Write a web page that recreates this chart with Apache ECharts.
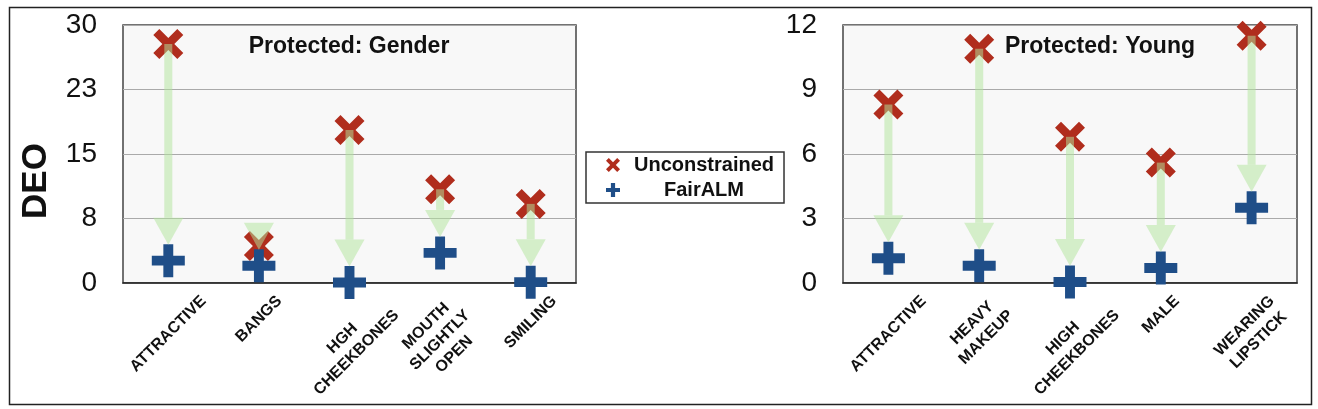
<!DOCTYPE html>
<html>
<head>
<meta charset="utf-8">
<script src="https://cdn.jsdelivr.net/npm/echarts@6/dist/echarts.min.js"></script>
<style>
html,body{margin:0;padding:0;background:#fff;}
#chart{width:1318px;height:409px;}
</style>
</head>
<body>
<div id="chart"></div>
<script>
// ---------- data ----------
const genderCategories = ['ATTRACTIVE', 'BANGS', 'HGH\nCHEEKBONES', 'MOUTH\nSLIGHTLY\nOPEN', 'SMILING'];
const genderUnconstrained = [27.8, 4.3, 17.8, 10.9, 9.2];
const genderFairALM = [2.6, 2.0, 0.05, 3.5, 0.1];
const genderTickLabels = ['0', '8', '15', '23', '30'];

const youngCategories = ['ATTRACTIVE', 'HEAVY\nMAKEUP', 'HIGH\nCHEEKBONES', 'MALE', 'WEARING\nLIPSTICK'];
const youngUnconstrained = [8.3, 10.9, 6.8, 5.6, 11.5];
const youngFairALM = [1.15, 0.8, 0.05, 0.7, 3.5];
const youngTickLabels = ['0', '3', '6', '9', '12'];

const titles = ['Protected: Gender', 'Protected: Young'];
const seriesNames = ['Unconstrained', 'FairALM'];
const yAxisName = 'DEO';

// ---------- styles ----------
const FONT = '"Liberation Sans", Arial, Helvetica, sans-serif';
const RED = '#b02d1d';
const BLUE = '#1f4e88';
const ARROW = 'rgba(178,228,158,0.52)';
const X_PATH = 'path://M2,0 L5,3 L8,0 L10,2 L7,5 L10,8 L8,10 L5,7 L2,10 L0,8 L3,5 L0,2 Z';
const PLUS_PATH = 'path://M3.5,0 H6.5 V3.5 H10 V6.5 H6.5 V10 H3.5 V6.5 H0 V3.5 H3.5 Z';

const LABEL_SIZE = 16, LABEL_LH = 20, LABEL_GAP = 10;
const measureCtx = document.createElement('canvas').getContext('2d');
measureCtx.font = 'bold ' + LABEL_SIZE + 'px ' + FONT;

function pairs(vals) { return vals.map((v, i) => [i, v]); }

function arrowSeries(g, unc, fair) {
  return {
    type: 'custom', xAxisIndex: g, yAxisIndex: g, clip: false, silent: true, z: 5,
    data: unc.map((u, i) => [i, u, fair[i]]),
    renderItem: function (params, api) {
      const i = api.value(0);
      const p1 = api.coord([i, api.value(1)]);
      const p2 = api.coord([i, api.value(2)]);
      const x = p1[0];
      const tipY = p2[1] - 16;
      const baseY = tipY - 27;
      const children = [];
      if (baseY > p1[1]) {
        children.push({ type: 'rect', shape: { x: x - 4, y: p1[1], width: 8, height: baseY - p1[1] }, style: { fill: ARROW } });
      }
      children.push({ type: 'polygon', shape: { points: [[x - 15, baseY], [x + 15, baseY], [x, tipY]] }, style: { fill: ARROW } });
      return { type: 'group', children: children };
    }
  };
}

function labelSeries(g, cats) {
  return {
    type: 'custom', xAxisIndex: g, yAxisIndex: g, clip: false, silent: true, z: 3,
    data: cats.map((c, i) => [i, 0]),
    renderItem: function (params, api) {
      const i = api.value(0);
      const p = api.coord([i, 0]);
      const lines = cats[i].split('\n');
      const w = Math.max.apply(null, lines.map(l => measureCtx.measureText(l).width));
      const h = (lines.length - 1) * LABEL_LH + LABEL_SIZE;
      const half = (w + h) / (2 * Math.SQRT2);
      return {
        type: 'text', x: p[0], y: p[1] + LABEL_GAP + half, rotation: Math.PI / 4,
        style: {
          text: cats[i], fontSize: LABEL_SIZE, fontWeight: 'bold', fontFamily: FONT,
          fill: '#111', align: 'center', verticalAlign: 'middle', lineHeight: LABEL_LH
        }
      };
    }
  };
}

function scatter(g, name, vals, sym, color, size) {
  return {
    type: 'scatter', name: name, xAxisIndex: g, yAxisIndex: g, clip: false, z: 4,
    symbol: sym, symbolSize: size, itemStyle: { color: color, opacity: 1 },
    data: pairs(vals)
  };
}

const gridCommon = { top: 25, height: 258, show: true, backgroundColor: '#f8f8f8', borderColor: '#444', borderWidth: 1.5 };

function xAxis(g, cats) {
  return {
    type: 'category', gridIndex: g, data: cats, boundaryGap: true,
    axisLine: { show: true, lineStyle: { color: '#222', width: 1.5 } },
    axisTick: { show: false }, axisLabel: { show: false }, splitLine: { show: false }
  };
}

function yAxis(g, max, interval, ticks, withName) {
  const ax = {
    type: 'value', gridIndex: g, min: 0, max: max, interval: interval,
    axisLine: { show: false }, axisTick: { show: false },
    splitLine: { show: true, lineStyle: { color: '#aaa', width: 1 } },
    axisLabel: {
      margin: 26, fontSize: 28, color: '#111', fontFamily: FONT,
      formatter: function (v) { return ticks[Math.round(v / interval)]; }
    }
  };
  if (withName) {
    Object.assign(ax, {
      name: yAxisName, nameLocation: 'middle', nameRotate: 90, nameGap: 69,
      nameTextStyle: { fontSize: 35, fontWeight: 'bold', color: '#111', fontFamily: FONT, padding: [0, 54, 0, 0] }
    });
  }
  return ax;
}

const chart = echarts.init(document.getElementById('chart'), null, { renderer: 'canvas' });
chart.setOption({
  animation: false,
  backgroundColor: '#fff',
  title: [
    { text: titles[0], left: 349, top: 35, textAlign: 'center', padding: 0,
      textStyle: { fontSize: 23, fontWeight: 'bold', color: '#111', fontFamily: FONT } },
    { text: titles[1], left: 1100, top: 35, textAlign: 'center', padding: 0,
      textStyle: { fontSize: 23, fontWeight: 'bold', color: '#111', fontFamily: FONT } }
  ],
  legend: {
    left: 586, top: 152, orient: 'vertical', itemGap: 5,
    padding: [3, 10, 3, 20], backgroundColor: '#fff', borderColor: '#333', borderWidth: 1.5, borderRadius: 0,
    itemWidth: 14, itemHeight: 14, itemStyle: { borderWidth: 0 },
    data: [{ name: seriesNames[0], icon: X_PATH }, { name: seriesNames[1], icon: PLUS_PATH }],
    formatter: function (n) { return '{a|' + n + '}'; },
    textStyle: {
      color: '#111', fontSize: 20, fontWeight: 'bold', fontFamily: FONT,
      rich: { a: { width: 158, align: 'center', fontSize: 20, fontWeight: 'bold', fontFamily: FONT, color: '#111' } }
    },
    selectedMode: false
  },
  grid: [
    Object.assign({ left: 123, width: 453 }, gridCommon),
    Object.assign({ left: 843, width: 454 }, gridCommon)
  ],
  xAxis: [xAxis(0, genderCategories), xAxis(1, youngCategories)],
  yAxis: [yAxis(0, 30, 7.5, genderTickLabels, true), yAxis(1, 12, 3, youngTickLabels, false)],
  graphic: [
    { type: 'rect', left: 7, top: 5, shape: { x: 0, y: 0, width: 1302, height: 397 },
      style: { fill: 'none', stroke: '#222', lineWidth: 1.5 }, silent: true, z: -1 }
  ],
  series: [
    scatter(0, seriesNames[0], genderUnconstrained, X_PATH, RED, 30),
    scatter(0, seriesNames[1], genderFairALM, PLUS_PATH, BLUE, 33),
    scatter(1, seriesNames[0], youngUnconstrained, X_PATH, RED, 30),
    scatter(1, seriesNames[1], youngFairALM, PLUS_PATH, BLUE, 33),
    arrowSeries(0, genderUnconstrained, genderFairALM),
    arrowSeries(1, youngUnconstrained, youngFairALM),
    labelSeries(0, genderCategories),
    labelSeries(1, youngCategories)
  ]
});
</script>
</body>
</html>
